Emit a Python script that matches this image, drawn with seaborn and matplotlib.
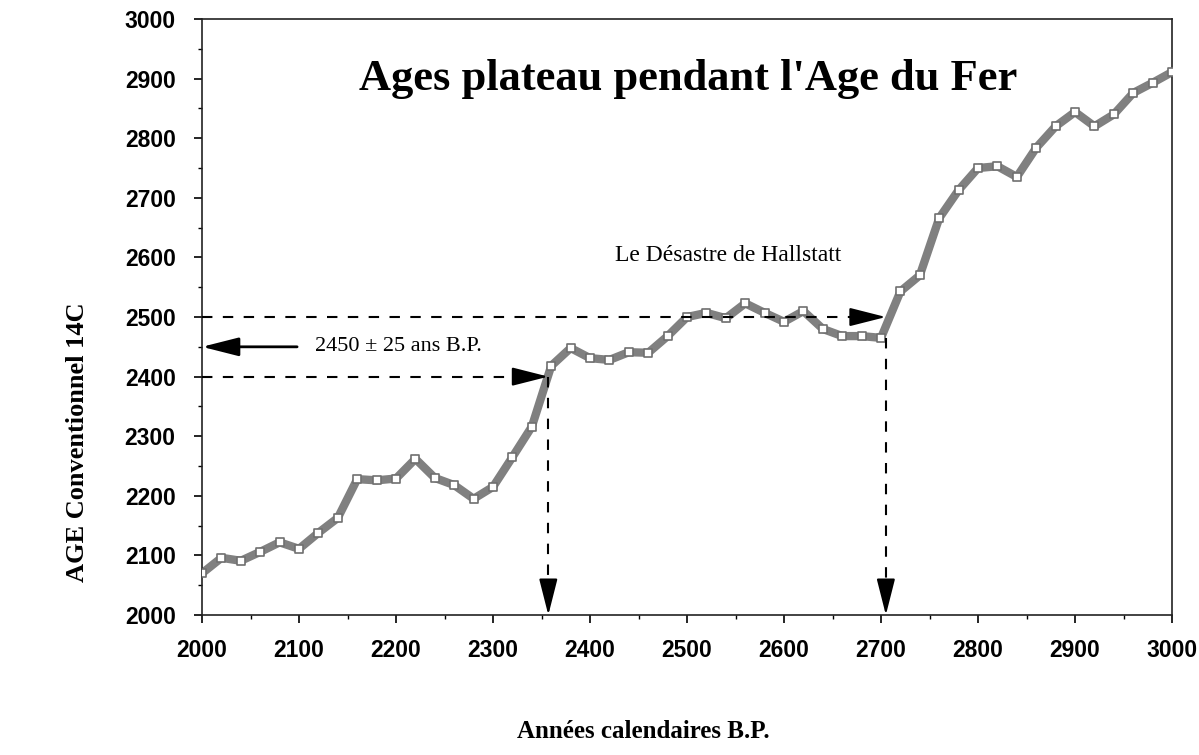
import numpy as np
import pandas as pd
import seaborn as sns
import matplotlib.pyplot as plt
from matplotlib.ticker import MultipleLocator

# calendar years (B.P.) and conventional 14C ages
years = list(range(2000, 3001, 20))
ages_14c = [2070, 2096, 2091, 2106, 2122, 2111, 2138, 2163, 2228, 2226,
            2229, 2262, 2230, 2218, 2195, 2215, 2265, 2316, 2418, 2448,
            2431, 2428, 2441, 2440, 2468, 2500, 2507, 2498, 2523, 2507,
            2492, 2510, 2480, 2468, 2468, 2465, 2543, 2570, 2666, 2713,
            2750, 2753, 2735, 2784, 2820, 2844, 2820, 2840, 2876, 2893,
            2911]

plateau_low = 2400
plateau_high = 2500
cal_low = 2357
cal_high = 2705
mean_age = 2450

df = pd.DataFrame({"annee": years, "age": ages_14c})

sns.set_style("ticks", {"text.color": "black", "xtick.color": "black",
                        "ytick.color": "black", "axes.labelcolor": "black"})
plt.rcParams['font.family'] = ['Liberation Serif', 'DejaVu Serif']

fig = plt.figure(figsize=(11.99, 7.55), dpi=100)
ax = fig.add_axes([0.1685, 0.1854, 0.809, 0.7894])

# thick grey band + open square markers
sns.lineplot(data=df, x="annee", y="age", ax=ax, color="#808080", linewidth=6, zorder=2)
sns.scatterplot(data=df, x="annee", y="age", ax=ax, marker="s", s=38,
                facecolor="white", edgecolor="#707070", linewidth=1.2, zorder=3)

ax.set_xlim(2000, 3000)
ax.set_ylim(2000, 3000)
ax.xaxis.set_major_locator(MultipleLocator(100))
ax.yaxis.set_major_locator(MultipleLocator(100))
ax.xaxis.set_minor_locator(MultipleLocator(50))
ax.yaxis.set_minor_locator(MultipleLocator(50))
ax.tick_params(which="major", length=6, width=1.2, direction="out", colors="black")
ax.tick_params(axis="x", which="major", pad=11)
ax.tick_params(axis="y", which="major", pad=13)
ax.tick_params(which="minor", length=3, width=1, direction="out", colors="black")
for sp in ax.spines.values():
    sp.set_linewidth(1.2)
    sp.set_color("#222222")

for lab in ax.get_xticklabels() + ax.get_yticklabels():
    lab.set_family(['Liberation Sans', 'DejaVu Sans'])
    lab.set_fontweight("bold")
    lab.set_fontsize(16.5)

ax.set_xlabel("Années calendaires B.P.", fontsize=18, fontweight="bold")
ax.xaxis.set_label_coords(0.455, -0.176)
ax.set_ylabel("AGE Conventionnel 14C", fontsize=19, fontweight="bold")
ax.yaxis.set_label_coords(-0.117, 0.29)

# dashed guide lines
dash = dict(color="black", linewidth=1.5, linestyle=(0, (5, 5)), zorder=4)
ax.plot([2000, cal_high - 20], [plateau_high, plateau_high], **dash)
ax.plot([2000, cal_low - 20], [plateau_low, plateau_low], **dash)
ax.plot([cal_low, cal_low], [plateau_low, 2040], **dash)
ax.plot([cal_high, cal_high], [2465, 2040], **dash)

head = dict(arrowstyle="-|>,head_length=1.5,head_width=0.38", color="black",
            linewidth=1.5, mutation_scale=15, shrinkA=0, shrinkB=0)
ax.annotate("", xy=(cal_high, plateau_high), xytext=(cal_high - 25, plateau_high),
            arrowprops=head, zorder=5)
ax.annotate("", xy=(cal_low, plateau_low), xytext=(cal_low - 25, plateau_low),
            arrowprops=head, zorder=5)
ax.annotate("", xy=(cal_low, 2000), xytext=(cal_low, 2040),
            arrowprops=head, zorder=5, annotation_clip=False)
ax.annotate("", xy=(cal_high, 2000), xytext=(cal_high, 2040),
            arrowprops=head, zorder=5, annotation_clip=False)

# solid arrow towards the y axis
ax.annotate("", xy=(2000, mean_age), xytext=(2098, mean_age),
            arrowprops=dict(arrowstyle="-|>,head_length=1.5,head_width=0.38",
                            color="black", linewidth=2, mutation_scale=15,
                            shrinkA=0, shrinkB=0), annotation_clip=False)
ax.text(2116, mean_age, "2450 ± 25 ans B.P.", fontsize=16, va="center", ha="left")

ax.text(2542, 2604, "Le Désastre de Hallstatt", fontsize=17, va="center", ha="center")
ax.text(2501, 2900, "Ages plateau pendant l'Age du Fer", fontsize=32,
        fontweight="bold", va="center", ha="center")

fig.savefig("out.png", dpi=100)
